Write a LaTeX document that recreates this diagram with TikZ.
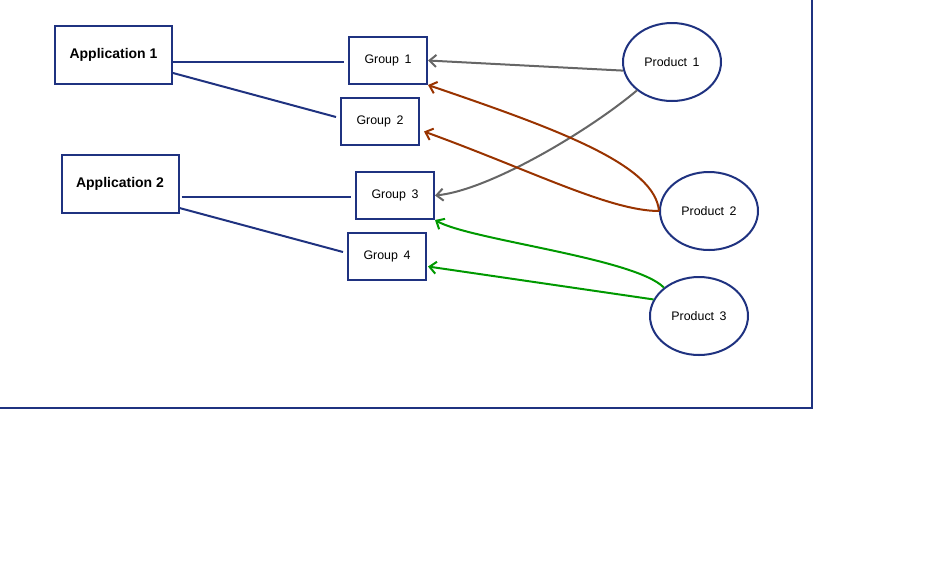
\documentclass[tikz,border=0pt]{standalone}
\usepackage{fontspec}
\setmainfont{Liberation Sans}
\usetikzlibrary{shapes.geometric,arrows.meta}
\definecolor{navy}{RGB}{31,50,128}
\definecolor{gline}{RGB}{102,102,102}
\definecolor{bline}{RGB}{153,51,0}
\definecolor{grline}{RGB}{0,153,0}
\tikzset{
  appbox/.style={draw=navy,line width=1.5pt,minimum width=87.75pt,minimum height=43.5pt,inner sep=0pt,font=\bfseries\fontsize{10.5pt}{12pt}\selectfont},
  grpbox/.style={draw=navy,line width=1.5pt,minimum width=58.5pt,minimum height=35.25pt,inner sep=0pt,font=\fontsize{9.3pt}{11pt}\selectfont},
  prod/.style={ellipse,draw=navy,line width=1.5pt,minimum width=73.5pt,minimum height=58.5pt,inner sep=0pt,font=\fontsize{9.3pt}{11pt}\selectfont},
  link/.style={navy,line width=1.5pt},
  feed/.style={line width=1.5pt,-{Straight Barb[length=5pt,width=9pt]}},
  frame/.style={navy,line width=1.5pt}
}
\begin{document}
\begin{tikzpicture}[x=0.75pt,y=-0.75pt]
\useasboundingbox (0,0) rectangle (949,583);
\draw[frame] (812,-5) -- (812,408) -- (-5,408);

\node[appbox] (a1) at (113.5,55) {\raisebox{-1.5pt}{Application 1}};
\node[appbox] (a2) at (120,183.5) {\raisebox{-1pt}{Application 2}};

\node[grpbox] (g1) at (388,60.5) {\raisebox{-1pt}{Group \,1}};
\node[grpbox] (g2) at (380,121.5) {\raisebox{-1pt}{Group \,2}};
\node[grpbox] (g3) at (395,195.5) {\raisebox{-1pt}{Group \,3}};
\node[grpbox] (g4) at (387,256.5) {\raisebox{-1pt}{Group \,4}};

\node[prod] (p1) at (672,62) {\raisebox{-1.5pt}{Product \,1}};
\node[prod] (p2) at (709,211) {\raisebox{-1.5pt}{Product \,2}};
\node[prod] (p3) at (699,316) {\raisebox{-1.5pt}{Product \,3}};

\draw[link] ([shift={(0,7)}]a1.east) -- ([shift={(-4,1.5)}]g1.west);
\draw[link] ([shift={(0,18)}]a1.east) -- ([shift={(-4,-4.5)}]g2.west);
\draw[link] ([shift={(2,13.5)}]a2.east) -- ([shift={(-4,1.5)}]g3.west);
\draw[link] ([shift={(0,24.5)}]a2.east) -- ([shift={(-4,-4.5)}]g4.west);

\draw[feed,gline] (p1.190) -- (g1.east);
\draw[feed,gline] (p1.219) .. controls (590,130) and (490,190) .. (g3.east);
\draw[feed,bline] (p2.west) .. controls (655,165) and (560,130) .. (g1.south east);
\draw[feed,bline] (p2.west) .. controls (610,211) and (530,170) .. ([shift={(4,10)}]g2.east);
\draw[feed,grline] (p3.141) .. controls (635,258) and (470,240) .. (g3.south east);
\draw[feed,grline] (p3.160) -- ([shift={(1,10)}]g4.east);
\end{tikzpicture}
\end{document}
